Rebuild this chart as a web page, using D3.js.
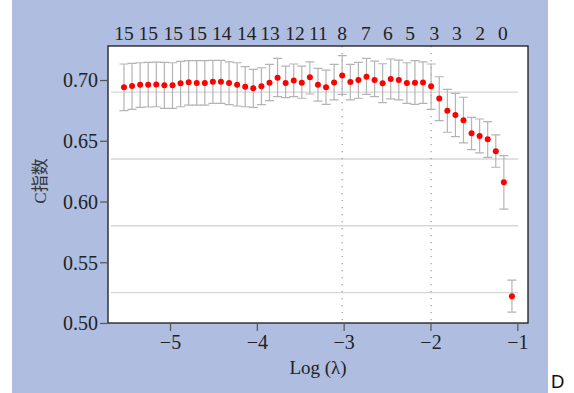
<!DOCTYPE html>
<html>
<head>
<meta charset="utf-8">
<script src="https://cdn.jsdelivr.net/npm/d3@7"></script>
<style>
  body { margin: 0; background: #fff; }
  svg { display: block; }
  .tick text { font-family: "Liberation Serif", "DejaVu Serif", serif; }
</style>
</head>
<body>
<div id="chart"></div>
<script>
// log(lambda) of each fitted model
const logLambda = [
  -5.530, -5.437, -5.344, -5.251, -5.158, -5.065, -4.971, -4.878, -4.785, -4.692,
  -4.599, -4.506, -4.413, -4.320, -4.227, -4.134, -4.041, -3.947, -3.854, -3.761,
  -3.668, -3.575, -3.482, -3.389, -3.296, -3.203, -3.110, -3.017, -2.923, -2.830,
  -2.737, -2.644, -2.551, -2.458, -2.365, -2.272, -2.179, -2.086, -1.993, -1.899,
  -1.806, -1.713, -1.620, -1.527, -1.434, -1.341, -1.248, -1.155, -1.062
];
// mean C-index
const cIndex = [
  0.6940, 0.6950, 0.6962, 0.6962, 0.6964, 0.6956, 0.6956, 0.6973, 0.6981, 0.6975,
  0.6975, 0.6986, 0.6986, 0.6975, 0.6962, 0.6945, 0.6932, 0.6948, 0.6978, 0.7019,
  0.6975, 0.6997, 0.6978, 0.7022, 0.6962, 0.6940, 0.6980, 0.7038, 0.6984, 0.7000,
  0.7027, 0.7000, 0.6973, 0.7008, 0.7000, 0.6975, 0.6978, 0.6980, 0.6948, 0.6847,
  0.6748, 0.6712, 0.6668, 0.6561, 0.6540, 0.6512, 0.6414, 0.6159, 0.5221
];
const cUpper = [
  0.7132, 0.7137, 0.7142, 0.7145, 0.7148, 0.7145, 0.7142, 0.7153, 0.7159, 0.7159,
  0.7159, 0.7162, 0.7162, 0.7150, 0.7142, 0.7110, 0.7088, 0.7101, 0.7129, 0.7178,
  0.7115, 0.7132, 0.7115, 0.7150, 0.7096, 0.7082, 0.7129, 0.7200, 0.7129, 0.7145,
  0.7178, 0.7156, 0.7134, 0.7173, 0.7164, 0.7142, 0.7159, 0.7150, 0.7132, 0.7027,
  0.6923, 0.6890, 0.6858, 0.6693, 0.6679, 0.6657, 0.6548, 0.6378, 0.5353
];
const cLower = [
  0.6748, 0.6759, 0.6775, 0.6778, 0.6780, 0.6767, 0.6767, 0.6780, 0.6794, 0.6794,
  0.6794, 0.6808, 0.6808, 0.6797, 0.6786, 0.6780, 0.6775, 0.6797, 0.6830, 0.6863,
  0.6855, 0.6863, 0.6850, 0.6885, 0.6827, 0.6800, 0.6836, 0.6882, 0.6836, 0.6850,
  0.6882, 0.6863, 0.6814, 0.6844, 0.6836, 0.6808, 0.6800, 0.6808, 0.6759, 0.6665,
  0.6570, 0.6534, 0.6482, 0.6427, 0.6400, 0.6364, 0.6282, 0.5937, 0.5090
];
// number of non-zero coefficients (top axis)
const topPos = [-5.530, -5.250, -4.962, -4.685, -4.404, -4.116, -3.848, -3.560, -3.292,
                -3.018, -2.745, -2.492, -2.235, -1.955, -1.697, -1.429, -1.167];
const topLabels = ['15', '15', '15', '15', '14', '14', '13', '12', '11',
                   '8', '7', '6', '5', '3', '3', '2', '0'];
const refLambda = [-3.017, -1.993];   // lambda.min, lambda.1se
const bgLines = [0.690, 0.635, 0.580, 0.525];
const xTicks = [-5, -4, -3, -2, -1];
const yTicks = [0.50, 0.55, 0.60, 0.65, 0.70];

const W = 574, H = 393;
const margin = {top: 46, right: 46, bottom: 70, left: 108};
const width = W - margin.left - margin.right;
const height = H - margin.top - margin.bottom;

const svg = d3.select('#chart').append('svg')
  .attr('width', W).attr('height', H);

// panel background
svg.append('rect')
  .attr('x', 12).attr('y', 0)
  .attr('width', 536).attr('height', H)
  .attr('fill', '#aebde0');

const g = svg.append('g')
  .attr('transform', 'translate(' + margin.left + ',' + margin.top + ')');

const x = d3.scaleLinear().domain([-5.714, -0.877]).range([0, width]);
const y = d3.scaleLinear().domain([0.50, 0.728]).range([height, 0]);

g.append('rect')
  .attr('width', width).attr('height', height)
  .attr('fill', '#fff');

// faint horizontal lines
g.selectAll('.bg-line')
  .data(bgLines)
  .enter().append('line')
  .attr('class', 'bg-line')
  .attr('x1', 3).attr('x2', x(-0.99))
  .attr('y1', d => y(d)).attr('y2', d => y(d))
  .attr('stroke', '#d6d6d6')
  .attr('stroke-width', 1.4);

// dotted reference lines
g.selectAll('.ref-line')
  .data(refLambda)
  .enter().append('line')
  .attr('class', 'ref-line')
  .attr('x1', d => x(d)).attr('x2', d => x(d))
  .attr('y1', 0).attr('y2', height)
  .attr('stroke', '#9a9a9a')
  .attr('stroke-width', 1.2)
  .attr('stroke-dasharray', '1.3,5.7');

const pts = logLambda.map((l, i) => ({l: l, m: cIndex[i], up: cUpper[i], lo: cLower[i]}));
const cap = 4.5;

const bars = g.append('g')
  .attr('stroke', '#b4b4b4')
  .attr('stroke-width', 1.2)
  .attr('fill', 'none');

bars.selectAll('.err')
  .data(pts)
  .enter().append('path')
  .attr('class', 'err')
  .attr('d', d => {
    const cx = x(d.l), y1 = y(d.up), y2 = y(d.lo);
    return 'M' + (cx - cap) + ',' + y1 + 'H' + (cx + cap) +
      'M' + cx + ',' + y1 + 'V' + y2 +
      'M' + (cx - cap) + ',' + y2 + 'H' + (cx + cap);
  });

g.selectAll('.pt')
  .data(pts)
  .enter().append('circle')
  .attr('class', 'pt')
  .attr('cx', d => x(d.l))
  .attr('cy', d => y(d.m))
  .attr('r', 3)
  .attr('fill', '#ff0000');

// frame
g.append('rect')
  .attr('width', width).attr('height', height)
  .attr('fill', 'none')
  .attr('stroke', '#1a1a1a')
  .attr('stroke-width', 1.3);

// axes
const axisX = g.append('g')
  .attr('transform', 'translate(0,' + height + ')')
  .call(d3.axisBottom(x).tickValues(xTicks).tickSize(8).tickPadding(4).tickFormat(d3.format('d')));
const axisY = g.append('g')
  .call(d3.axisLeft(y).tickValues(yTicks).tickSize(8).tickPadding(2).tickFormat(d3.format('.2f')));

[axisX, axisY].forEach(a => {
  a.select('.domain').remove();
  a.selectAll('.tick line').attr('stroke', '#555').attr('stroke-width', 1.2);
  a.selectAll('.tick text')
    .attr('fill', '#222')
    .style('font-size', '20px');
});
axisY.selectAll('.tick text').attr('dy', '0.34em');

// top labels (number of variables)
g.selectAll('.top-label')
  .data(topLabels)
  .enter().append('text')
  .attr('class', 'top-label')
  .attr('x', (d, i) => x(topPos[i]))
  .attr('y', -6)
  .attr('text-anchor', 'middle')
  .attr('font-family', '"Liberation Serif", serif')
  .attr('font-size', 19.5)
  .attr('fill', '#222')
  .text(d => d);

// axis titles
svg.append('text')
  .attr('x', margin.left + width / 2)
  .attr('y', 374)
  .attr('text-anchor', 'middle')
  .attr('font-family', '"Liberation Serif", serif')
  .attr('font-size', 19)
  .attr('fill', '#222')
  .text('Log (λ)');

svg.append('text')
  .attr('transform', 'translate(46,' + 181 + ') rotate(-90)')
  .attr('text-anchor', 'middle')
  .attr('font-family', '"Liberation Serif", "Noto Sans CJK SC", serif')
  .attr('font-size', 17)
  .attr('fill', '#333')
  .text('C指数');

svg.append('text')
  .attr('x', 551)
  .attr('y', 388)
  .attr('font-family', '"Liberation Sans", sans-serif')
  .attr('font-size', 18.5)
  .attr('fill', '#111')
  .text('D');
</script>
</body>
</html>
